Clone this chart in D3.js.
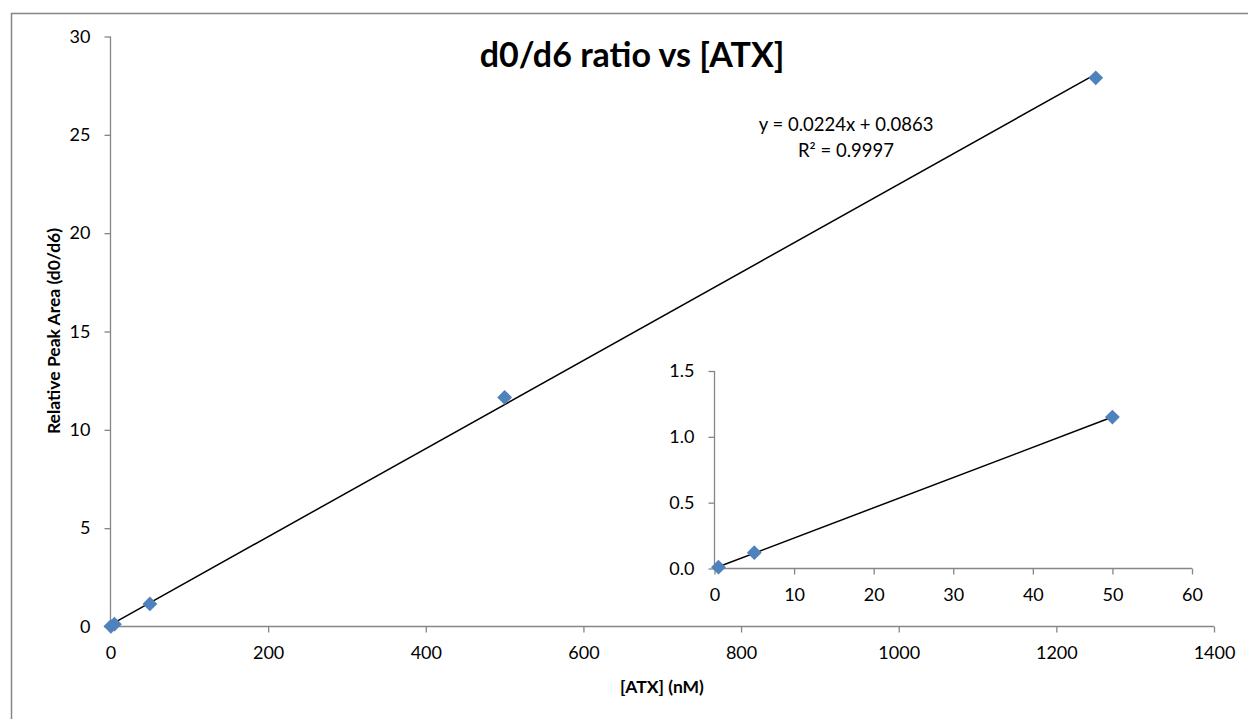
<!DOCTYPE html>
<html lang="en">
<head>
<meta charset="UTF-8">
<title>d0/d6 ratio vs [ATX]</title>
<script src="https://d3js.org/d3.v7.min.js"></script>
<style>
  body { margin: 0; background: #fff; }
  svg { display: block; font-family: Lato, "Open Sans", sans-serif; }
  .axis path, .axis line { stroke: #868686; }
  .axis text { fill: #000; }
</style>
</head>
<body>
<div id="chart"></div>
<script>
// main series: concentration (nM) vs relative peak area
const atx = [0.5, 5, 50, 500, 1250];
const ratio = [0.01, 0.12, 1.15, 11.65, 27.9];

// inset: the low end only
const insetAtx = [0.5, 5, 50];
const insetRatio = [0.01, 0.12, 1.15];

// tick values
const xTicks = [0, 200, 400, 600, 800, 1000, 1200, 1400];
const yTicks = [0, 5, 10, 15, 20, 25, 30];
const insetXTicks = [0, 10, 20, 30, 40, 50, 60];
const insetYTicks = [0, 0.5, 1.0, 1.5];

// trendline as shown on the chart
const slope = 0.0224;
const intercept = 0.0863;
const eqnText = "y = 0.0224x + 0.0863";
const r2Text = "R² = 0.9997";

const width = 1248, height = 719;
const blue = "#4F81BD";

const svg = d3.select("#chart").append("svg")
    .attr("width", width)
    .attr("height", height);

// chart frame (runs off the bottom/right like the original)
svg.append("rect")
    .attr("x", 11.5).attr("y", 13.5)
    .attr("width", width).attr("height", height)
    .attr("fill", "none")
    .attr("stroke", "#868686")
    .attr("stroke-width", 1.5);

// scales
const x = d3.scaleLinear().domain([0, 1400]).range([110.5, 1214]);
const y = d3.scaleLinear().domain([0, 30]).range([626.5, 36.5]);
const ix = d3.scaleLinear().domain([0, 60]).range([714.5, 1192]);
const iy = d3.scaleLinear().domain([0, 1.5]).range([568.5, 371]);

const diamond = d3.symbol().type(d3.symbolSquare).size(110);

function drawAxes(g, xs, ys, xt, yt, yfmt, fontSize) {
    const xa = g.append("g").attr("class", "axis")
        .attr("transform", `translate(0,${ys.range()[0]})`)
        .call(d3.axisBottom(xs).tickValues(xt).tickSize(6).tickPadding(14).tickFormat(d3.format("d")));
    const ya = g.append("g").attr("class", "axis")
        .attr("transform", `translate(${xs.range()[0]},0)`)
        .call(d3.axisLeft(ys).tickValues(yt).tickSize(6).tickPadding(14).tickFormat(yfmt));
    [xa, ya].forEach(a => {
        a.attr("font-size", fontSize).attr("font-family", "Lato, sans-serif");
        a.select(".domain").attr("stroke", "#868686").attr("stroke-width", 1.3);
        a.selectAll("line").attr("stroke", "#868686").attr("stroke-width", 1.3);
    });
    // drop the outer tick stubs of the domain path
    xa.select(".domain").attr("d", `M${xs.range()[0]},0H${xs.range()[1]}`);
    ya.select(".domain").attr("d", `M0,${ys.range()[0]}V${ys.range()[1]}`);
}

// main plot
const main = svg.append("g");
drawAxes(main, x, y, xTicks, yTicks, d3.format("d"), 18);

const xExt = d3.extent(atx);
main.append("line")
    .attr("x1", x(xExt[0])).attr("y1", y(slope * xExt[0] + intercept))
    .attr("x2", x(xExt[1])).attr("y2", y(slope * xExt[1] + intercept))
    .attr("stroke", "#000").attr("stroke-width", 1.5);

main.selectAll(".pt")
    .data(atx.map((v, i) => [v, ratio[i]]))
    .join("path")
    .attr("class", "pt")
    .attr("d", diamond)
    .attr("fill", blue)
    .attr("transform", d => `translate(${x(d[0])},${y(d[1])}) rotate(45)`);

// inset plot
const inset = svg.append("g");
drawAxes(inset, ix, iy, insetXTicks, insetYTicks, d3.format(".1f"), 18);

// least squares fit for the inset points
const mx = d3.mean(insetAtx), my = d3.mean(insetRatio);
const sxy = d3.sum(insetAtx, (v, i) => (v - mx) * (insetRatio[i] - my));
const sxx = d3.sum(insetAtx, v => (v - mx) * (v - mx));
const iSlope = sxy / sxx, iInt = my - iSlope * mx;
const iExt = d3.extent(insetAtx);
inset.append("line")
    .attr("x1", ix(iExt[0])).attr("y1", iy(iSlope * iExt[0] + iInt))
    .attr("x2", ix(iExt[1])).attr("y2", iy(iSlope * iExt[1] + iInt))
    .attr("stroke", "#000").attr("stroke-width", 1.5);

inset.selectAll(".ipt")
    .data(insetAtx.map((v, i) => [v, insetRatio[i]]))
    .join("path")
    .attr("class", "ipt")
    .attr("d", diamond)
    .attr("fill", blue)
    .attr("transform", d => `translate(${ix(d[0])},${iy(d[1])}) rotate(45)`);

// titles
svg.append("text")
    .attr("x", 632).attr("y", 67)
    .attr("text-anchor", "middle")
    .attr("font-size", 34).attr("font-weight", "bold")
    .text("d0/d6 ratio vs [ATX]");

svg.append("text")
    .attr("x", 662).attr("y", 693)
    .attr("text-anchor", "middle")
    .attr("font-size", 17.5).attr("font-weight", "bold")
    .text("[ATX] (nM)");

svg.append("text")
    .attr("transform", "translate(60,331) rotate(-90)")
    .attr("text-anchor", "middle")
    .attr("font-size", 17.5).attr("font-weight", "bold")
    .text("Relative Peak Area (d0/d6)");

// trendline label
const eq = svg.append("text")
    .attr("text-anchor", "middle")
    .attr("font-size", 18.5);
eq.append("tspan").attr("x", 846).attr("y", 131).text(eqnText);
eq.append("tspan").attr("x", 846).attr("y", 157).text(r2Text);
</script>
</body>
</html>
